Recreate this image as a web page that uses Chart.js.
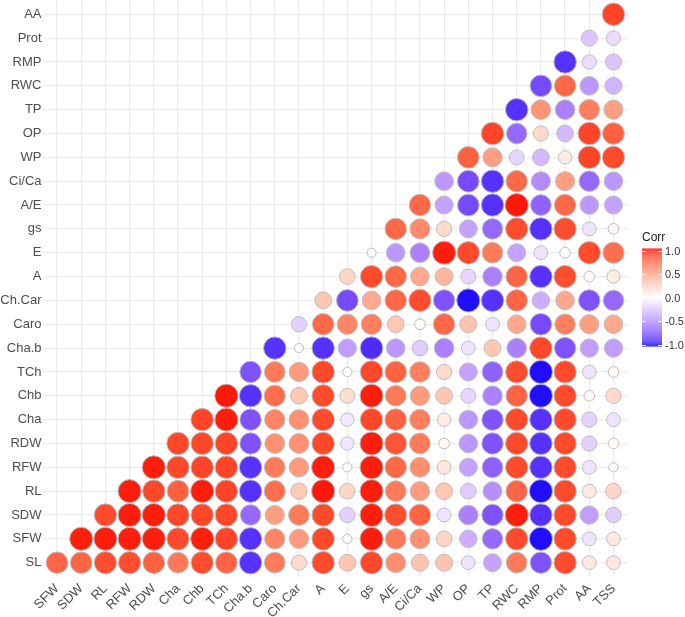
<!DOCTYPE html>
<html>
<head>
<meta charset="utf-8">
<script src="https://cdn.jsdelivr.net/npm/chart.js@4"></script>
<style>
  html, body { margin: 0; padding: 0; background: #fff; }
  #wrap { width: 685px; height: 617px; }
</style>
</head>
<body>
<div id="wrap"><canvas id="corrChart" width="685" height="617"></canvas></div>
<script>
// variables in plot order
const variables = ['SL', 'SFW', 'SDW', 'RL', 'RFW', 'RDW', 'Cha', 'Chb', 'TCh', 'Cha.b', 'Caro', 'Ch.Car',
    'A', 'E', 'gs', 'A/E', 'Ci/Ca', 'WP', 'OP', 'TP', 'RWC', 'RMP', 'Prot', 'AA', 'TSS'];
const xLabels = variables.slice(1);
const yLabels = variables.slice(0, variables.length - 1);

// each row: correlation of the row variable with every variable after it
const corr_SL = [0.76, 0.76, 0.85, 0.85, 0.78, 0.68, 0.85, 0.77, -0.88, 0.67, 0.20, 0.86, 0.30, 0.87, 0.58, 0.32, 0.32, -0.12, -0.40, 0.67, -0.75, 0.86, 0.12, 0.12];
const corr_SFW = [0.97, 0.97, 0.97, 0.97, 0.86, 0.97, 0.88, -0.88, 0.62, 0.52, 0.87, 0.02, 0.97, 0.67, 0.57, 0.22, -0.35, -0.65, 0.86, -0.98, 0.86, -0.12, 0.12];
const corr_SDW = [0.86, 0.97, 0.97, 0.87, 0.87, 0.87, -0.65, 0.50, 0.67, 0.86, -0.20, 0.97, 0.85, 0.77, -0.12, -0.55, -0.75, 0.97, -0.88, 0.86, -0.42, -0.22];
const corr_RL = [0.97, 0.87, 0.78, 0.97, 0.88, -0.88, 0.72, 0.28, 0.98, 0.22, 0.97, 0.67, 0.52, 0.30, -0.22, -0.48, 0.76, -0.98, 0.86, 0.12, 0.22];
const corr_RFW = [0.97, 0.87, 0.88, 0.88, -0.88, 0.67, 0.52, 0.97, 0.02, 0.97, 0.75, 0.58, 0.12, -0.40, -0.68, 0.86, -0.88, 0.86, -0.12, 0.02];
const corr_RDW = [0.87, 0.87, 0.88, -0.75, 0.57, 0.57, 0.87, -0.10, 0.97, 0.82, 0.67, 0.03, -0.45, -0.75, 0.86, -0.88, 0.86, -0.20, 0.03];
const corr_Cha = [0.88, 0.97, -0.75, 0.62, 0.57, 0.86, -0.10, 0.87, 0.77, 0.65, 0.10, -0.45, -0.75, 0.86, -0.88, 0.86, -0.20, -0.12];
const corr_Chb = [0.98, -0.88, 0.72, 0.30, 0.86, 0.18, 0.97, 0.67, 0.52, 0.30, -0.18, -0.55, 0.76, -0.98, 0.86, 0.03, 0.20];
const corr_TCh = [-0.75, 0.67, 0.52, 0.87, 0.02, 0.87, 0.77, 0.65, 0.20, -0.40, -0.68, 0.85, -0.98, 0.86, -0.12, 0.03];
const corr_Chab = [-0.88, 0.02, -0.88, -0.42, -0.90, -0.45, -0.22, -0.55, -0.12, 0.30, -0.55, 0.87, -0.75, -0.42, -0.42];
const corr_Caro = [-0.20, 0.75, 0.62, 0.65, 0.30, 0.03, 0.75, 0.32, -0.12, 0.45, -0.78, 0.65, 0.50, 0.45];
const corr_ChCar = [0.30, -0.78, 0.45, 0.75, 0.85, -0.75, -0.98, -0.88, 0.76, -0.35, 0.45, -0.75, -0.65];
const corr_A = [0.22, 0.86, 0.75, 0.45, 0.38, -0.18, -0.55, 0.76, -0.88, 0.85, 0.03, 0.10];
const corr_E = [0.02, -0.45, -0.55, 0.97, 0.86, 0.67, -0.40, -0.12, 0.03, 0.86, 0.72];
const corr_gs = [0.75, 0.60, 0.20, -0.40, -0.65, 0.85, -0.88, 0.85, -0.12, 0.03];
const corr_AE = [0.75, -0.40, -0.78, -0.88, 0.98, -0.68, 0.75, -0.45, -0.40];
const corr_CiCa = [-0.45, -0.78, -0.88, 0.75, -0.50, 0.50, -0.65, -0.45];
const corr_WP = [0.78, 0.50, -0.18, -0.30, 0.10, 0.88, 0.86];
const corr_OP = [0.88, -0.65, 0.20, -0.30, 0.88, 0.78];
const corr_TP = [-0.88, 0.55, -0.55, 0.65, 0.50];
const corr_RWC = [-0.78, 0.75, -0.45, -0.32];
const corr_RMP = [-0.88, -0.15, -0.25];
const corr_Prot = [-0.25, -0.15];
const corr_AA = [0.88];

const corrRows = [corr_SL, corr_SFW, corr_SDW, corr_RL, corr_RFW, corr_RDW, corr_Cha, corr_Chb, corr_TCh,
    corr_Chab, corr_Caro, corr_ChCar, corr_A, corr_E, corr_gs, corr_AE, corr_CiCa, corr_WP, corr_OP,
    corr_TP, corr_RWC, corr_RMP, corr_Prot, corr_AA];

const legendTicks = [1.0, 0.5, 0.0, -0.5, -1.0];

// blue - white - red, interpolated in Lab like ggplot
const LAB_WHITE = [100, 0, 0];
const LAB_RED = [53.24, 80.09, 67.20];
const LAB_BLUE = [32.30, 79.19, -107.86];

function lab2rgb(L, a, b) {
    const fy = (L + 16) / 116, fx = fy + a / 500, fz = fy - b / 200;
    const finv = t => t > 6 / 29 ? t * t * t : 3 * (6 / 29) * (6 / 29) * (t - 4 / 29);
    const X = 0.95047 * finv(fx), Y = finv(fy), Z = 1.08883 * finv(fz);
    const lin = [
        3.2404542 * X - 1.5371385 * Y - 0.4985314 * Z,
        -0.9692660 * X + 1.8760108 * Y + 0.0415560 * Z,
        0.0556434 * X - 0.2040259 * Y + 1.0572252 * Z
    ];
    return lin.map(c => {
        c = c <= 0.0031308 ? 12.92 * c : 1.055 * Math.pow(c, 1 / 2.4) - 0.055;
        return Math.round(Math.max(0, Math.min(1, c)) * 255);
    });
}
function corrColor(v) {
    const end = v >= 0 ? LAB_RED : LAB_BLUE;
    const t = Math.min(1, Math.abs(v));
    const lab = LAB_WHITE.map((w, i) => w + (end[i] - w) * t);
    const rgb = lab2rgb(lab[0], lab[1], lab[2]);
    return `rgb(${rgb[0]}, ${rgb[1]}, ${rgb[2]})`;
}

const allAbs = corrRows.flat().map(Math.abs);
const minAbs = Math.min(...allAbs);
const maxAbs = Math.max(...allAbs);
const R_MAX = 11.6;

let points = [];
corrRows.map((row, i) => {
    row.map((v, k) => {
        const t = (Math.abs(v) - minAbs) / (maxAbs - minAbs);
        points.push({ x: i + k, y: i, r: R_MAX * (0.4 + 0.6 * Math.sqrt(t)), v: v });
    })
})

const legendPlugin = {
    id: 'corrLegend',
    afterDraw(chart) {
        const ctx = chart.ctx;
        const area = chart.chartArea;
        const x0 = area.right + 14, w = 20;
        const yMid = (area.top + area.bottom) / 2 + 9;
        const half = 47;
        ctx.save();
        // title
        ctx.fillStyle = '#1a1a1a';
        ctx.font = '12px "Liberation Sans", Arial, sans-serif';
        ctx.textBaseline = 'alphabetic';
        ctx.textAlign = 'left';
        ctx.fillText('Corr', x0, yMid - half - 10);
        // bar
        for (let y = yMid - half - 2; y < yMid + half + 2; y++) {
            const v = Math.max(-1, Math.min(1, (yMid - (y + 0.5)) / half));
            ctx.fillStyle = corrColor(v);
            ctx.fillRect(x0, y, w, 1);
        }
        // ticks + labels
        ctx.strokeStyle = '#fff';
        ctx.lineWidth = 1;
        ctx.font = '11px "Liberation Sans", Arial, sans-serif';
        ctx.textBaseline = 'middle';
        legendTicks.map((v) => {
            const y = Math.round(yMid - v * half) + 0.5;
            ctx.beginPath();
            ctx.moveTo(x0, y); ctx.lineTo(x0 + 4, y);
            ctx.moveTo(x0 + w - 4, y); ctx.lineTo(x0 + w, y);
            ctx.stroke();
            ctx.fillStyle = '#333';
            ctx.fillText(v.toFixed(1), x0 + w + 3, y);
        })
        ctx.restore();
    }
};

const axisFont = { family: '"Liberation Sans", Arial, sans-serif', size: 13 };

new Chart(document.getElementById('corrChart').getContext('2d'), {
    type: 'bubble',
    data: {
        datasets: [{
            data: points,
            backgroundColor: (c) => c.raw ? corrColor(c.raw.v) : '#fff',
            borderColor: '#BEBEBE',
            borderWidth: 1
        }]
    },
    options: {
        responsive: false,
        animation: false,
        events: [],
        layout: { autoPadding: false, padding: { top: 0, right: 57, bottom: 0, left: 0 } },
        plugins: { legend: { display: false }, tooltip: { enabled: false } },
        scales: {
            x: {
                type: 'linear',
                min: -0.6,
                max: xLabels.length - 0.4,
                afterBuildTicks: (scale) => { scale.ticks = xLabels.map((_, i) => ({ value: i })); },
                afterFit: (scale) => {
                    scale.height = 40;
                    scale.paddingLeft = 0;
                    scale.paddingRight = 0;
                },
                grid: { color: '#EBEBEB', lineWidth: 1.2, drawTicks: false },
                border: { display: false },
                ticks: {
                    autoSkip: false,
                    minRotation: 45,
                    maxRotation: 45,
                    padding: 4,
                    color: '#4D4D4D',
                    font: axisFont,
                    callback: (v) => xLabels[v]
                }
            },
            y: {
                type: 'linear',
                min: -0.6,
                max: yLabels.length - 0.4,
                afterBuildTicks: (scale) => { scale.ticks = yLabels.map((_, i) => ({ value: i })); },
                afterFit: (scale) => {
                    scale.width = 42.5;
                    scale.paddingTop = 0;
                    scale.paddingBottom = 0;
                },
                grid: { color: '#EBEBEB', lineWidth: 1.2, drawTicks: false },
                border: { display: false },
                ticks: {
                    autoSkip: false,
                    padding: 1,
                    color: '#4D4D4D',
                    font: axisFont,
                    callback: (v) => yLabels[v]
                }
            }
        }
    },
    plugins: [legendPlugin]
});
</script>
</body>
</html>
